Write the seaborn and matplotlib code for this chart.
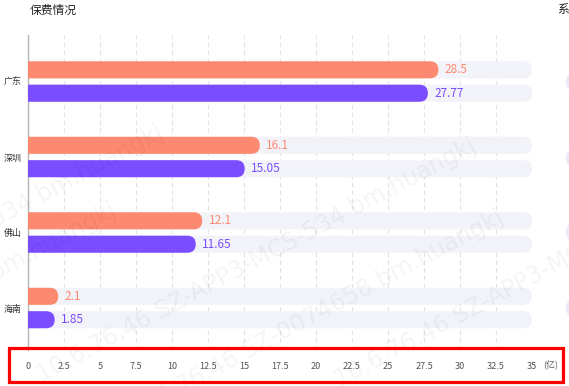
import seaborn as sns
import matplotlib.pyplot as plt
import pandas as pd
from matplotlib.patches import FancyBboxPatch, Rectangle, Circle
from matplotlib.transforms import IdentityTransform

regions = ['广东', '深圳', '佛山', '海南']
plan = [28.5, 16.1, 12.1, 2.1]
actual = [27.77, 15.05, 11.65, 1.85]
x_max = 35
x_ticks = [0, 2.5, 5, 7.5, 10, 12.5, 15, 17.5, 20, 22.5, 25, 27.5, 30, 32.5, 35]
unit = '(亿)'
title = '保费情况'

df = pd.DataFrame({
    'region': regions * 2,
    'value': plan + actual,
    'series': ['plan'] * len(regions) + ['actual'] * len(regions),
})
df['full'] = x_max

sns.set_theme(style='white')
plt.rcParams['font.family'] = ['Noto Sans CJK SC', 'DejaVu Sans']

W, H = 569, 386
fig = plt.figure(figsize=(W / 100, H / 100), dpi=100)
ax = fig.add_axes([28 / W, 1 - 350 / H, 504 / W, 315 / H])

bg = '#f2f2f9'
colors = {'plan': '#fd8a70', 'actual': '#7a4dff'}

# background tracks, then the real bars
sns.barplot(data=df, x='full', y='region', hue='series', hue_order=['plan', 'actual'],
            palette=[bg, bg], saturation=1, width=0.62, gap=0.27, errorbar=None,
            legend=False, ax=ax)
n_bg = len(ax.patches)
sns.barplot(data=df, x='value', y='region', hue='series', hue_order=['plan', 'actual'],
            palette=colors, saturation=1, width=0.62, gap=0.27, errorbar=None,
            legend=False, ax=ax)

ax.set_xlim(0, x_max)
ax.set_ylim(3.556, -0.616)

# pixels per data unit, for round ends
px_x = ax.transData.transform((1, 0))[0] - ax.transData.transform((0, 0))[0]
px_y = abs(ax.transData.transform((0, 1))[1] - ax.transData.transform((0, 0))[1])

bars = list(ax.patches)
for i, p in enumerate(bars):
    x0, y0, w, h = p.get_x(), p.get_y(), p.get_width(), p.get_height()
    fc = p.get_facecolor()
    p.remove()
    r = (h / 2) * px_y / px_x
    ax.add_patch(FancyBboxPatch((x0 - r, y0), w + r, h,
                                boxstyle=f'round,pad=0,rounding_size={r}',
                                mutation_aspect=(h / 2) / r, fc=fc, ec='none',
                                zorder=2 if i < n_bg else 3))
    if i >= n_bg:
        series = 'plan' if (i - n_bg) < len(regions) else 'actual'
        ax.annotate(f'{w:g}', (w, y0 + h / 2), xytext=(4.5, 0), textcoords='offset points',
                    va='center', ha='left', fontsize=8.5, color=colors[series], zorder=4)

ax.set_xticks(x_ticks)
ax.set_xticklabels([f'{t:g}' for t in x_ticks])
ax.tick_params(axis='x', length=0, pad=8.5, labelsize=6.5, labelcolor='#555555')
ax.tick_params(axis='y', length=0, pad=4.5, labelsize=6.5, labelcolor='#333333')
ax.set_xlabel('')
ax.set_ylabel('')
ax.grid(axis='x', linestyle=(0, (4, 3)), color='#e2e2e2', linewidth=0.8)
ax.set_axisbelow(True)
for s in ['top', 'right', 'bottom']:
    ax.spines[s].set_visible(False)
ax.spines['left'].set_color('#b5b5b5')
ax.spines['left'].set_linewidth(1)

fig.text(543 / W, 1 - 366 / H, unit, fontsize=6.5, color='#555555', va='center', ha='left')
fig.text(30 / W, 1 - 10 / H, title, fontsize=8.5, color='#222222', va='center', ha='left')
fig.text(557 / W, 1 - 10 / H, '系统', fontsize=8.5, color='#222222', va='center', ha='left')

# partial markers at the right edge
for yc in [82, 158, 232, 308]:
    fig.patches.append(Circle((577, H - yc), 11, transform=IdentityTransform(),
                              fc='#ebe8fb', ec='none'))

# red highlight box around the x axis
fig.patches.append(Rectangle((9, H - 382), 554, 34, transform=IdentityTransform(),
                             fill=False, ec='#ff0000', lw=2.3, zorder=5))

# faint watermark
wm_a = '10.6.76.46 SZ-APP3-MCS-534 bm.huangkj'
wm_b = '10.6.76.46 SZ-0074658 bm.huangkj'
for s, (xp, yp), ha in [(wm_a, (165, 137), 'right'), (wm_b, (118, 215), 'right'),
                        (wm_a, (478, 150), 'right'), (wm_b, (505, 222), 'right'),
                        (wm_a, (340, 388), 'left')]:
    fig.text(xp / W, 1 - yp / H, s, rotation=28, rotation_mode='anchor', ha=ha,
             va='baseline', fontsize=17, color='#000000', alpha=0.045,
             family=['DejaVu Sans'])

fig.savefig('out.png', dpi=100)
